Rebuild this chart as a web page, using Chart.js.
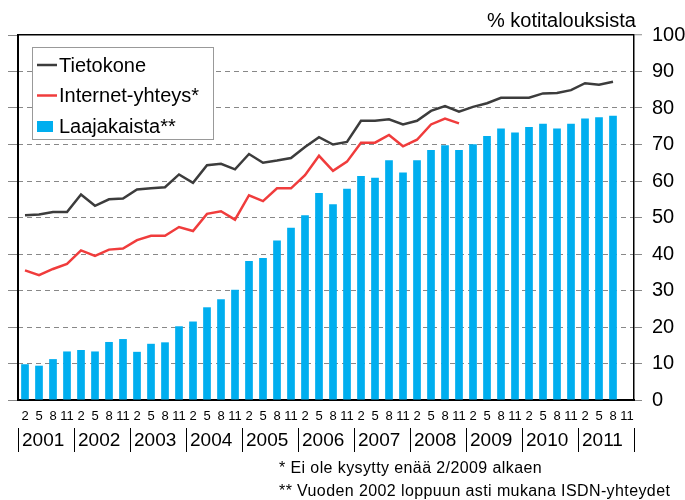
<!DOCTYPE html>
<html>
<head>
<meta charset="utf-8">
<title>Tietokone, internet ja laajakaista kotitalouksissa</title>
<script src="https://cdn.jsdelivr.net/npm/chart.js@4.4.1/dist/chart.umd.min.js"></script>
<style>
    body { margin: 0; background: #fff; }
    #wrap { position: relative; width: 685px; height: 500px; font-family: 'Liberation Sans', Arial, sans-serif; color: #000; }
    #chart { position: absolute; left: 0; top: 0; }
    #unit { position: absolute; right: 49px; top: 10px; font-size: 20px; line-height: 20px; white-space: nowrap; }
    .note { position: absolute; left: 279px; font-size: 16px; line-height: 16px; letter-spacing: 0.4px; white-space: nowrap; }
</style>
</head>
<body>
<div id="wrap">
    <canvas id="chart" width="685" height="500"></canvas>
    <div id="unit">% kotitalouksista</div>
    <div class="note" style="top:460px">* Ei ole kysytty enää 2/2009 alkaen</div>
    <div class="note" style="top:483px">** Vuoden 2002 loppuun asti mukana ISDN-yhteydet</div>
</div>
<script>
// Categories: one slot per survey month (2, 5, 8, 11) of every year
const years = ['2001', '2002', '2003', '2004', '2005', '2006', '2007', '2008', '2009', '2010', '2011'];
const months = ['2', '5', '8', '11'];

// Series values, % of households (2/2001 ... 11/2011)
const computerData = [
    50.6, 50.8, 51.5, 51.5, 56.3, 53.2, 55.0, 55.2, 57.7, 58.0, 58.3, 61.8,
    59.5, 64.3, 64.7, 63.2, 67.4, 65.0, 65.6, 66.3, 69.3, 72.0, 70.0, 70.7,
    76.5, 76.5, 76.9, 75.5, 76.5, 79.2, 80.5, 79.0, 80.3, 81.3, 82.8, 82.8,
    82.8, 84.0, 84.1, 84.9, 86.8, 86.4, 87.2, null
];
const internetData = [
    35.5, 34.2, 35.9, 37.3, 41.0, 39.5, 41.2, 41.5, 43.8, 45.0, 45.0, 47.4,
    46.3, 51.0, 51.7, 49.4, 56.1, 54.5, 58.0, 58.0, 61.6, 66.9, 62.8, 65.3,
    70.5, 70.5, 72.6, 69.5, 71.3, 75.5, 77.1, 75.8
];
const broadbandData = [
    9.8, 9.4, 11.2, 13.3, 13.7, 13.3, 15.9, 16.7, 13.2, 15.4, 15.8, 20.2,
    21.5, 25.4, 27.6, 30.2, 38.1, 38.9, 43.7, 47.2, 50.6, 56.7, 53.6, 57.9,
    61.4, 60.9, 65.7, 62.3, 65.7, 68.5, 69.8, 68.5, 70.1, 72.3, 74.4, 73.3,
    74.8, 75.7, 74.4, 75.7, 77.1, 77.5, 77.9, null
];

const quarterLabels = years.flatMap(() => months);
const FONT = "'Liberation Sans', Arial, sans-serif";

// Legend drawn as a framed box inside the plot area
const boxLegend = {
    id: 'boxLegend',
    afterDraw(chart) {
        const ctx = chart.ctx;
        const area = chart.chartArea;
        const x = area.left + 14, y = area.top + 12, w = 181, h = 92;
        ctx.save();
        ctx.fillStyle = '#fff';
        ctx.fillRect(x, y, w, h);
        ctx.strokeStyle = '#999';
        ctx.lineWidth = 1;
        ctx.strokeRect(x + 0.5, y + 0.5, w, h);
        ctx.font = '20px ' + FONT;
        ctx.textBaseline = 'middle';
        chart.data.datasets.forEach((ds, i) => {
            const cy = y + 18 + i * 30.5;
            if (ds.type === 'bar') {
                ctx.fillStyle = ds.backgroundColor;
                ctx.fillRect(x + 5, cy - 5, 16, 11);
            } else {
                ctx.strokeStyle = ds.borderColor;
                ctx.lineWidth = 2.5;
                ctx.beginPath();
                ctx.moveTo(x + 5, cy);
                ctx.lineTo(x + 25, cy);
                ctx.stroke();
            }
            ctx.fillStyle = '#000';
            ctx.fillText(ds.label, x + 27, cy + 1);
        });
        ctx.restore();
    }
};

const isTop = (c) => c.tick && c.tick.value === 100;

new Chart(document.getElementById('chart'), {
    type: 'bar',
    data: {
        labels: quarterLabels,
        datasets: [{
            type: 'line',
            label: 'Tietokone',
            data: computerData,
            borderColor: '#3c3c3c',
            backgroundColor: '#3c3c3c',
            borderWidth: 2.5,
            pointRadius: 0,
            tension: 0,
            order: 1
        }, {
            type: 'line',
            label: 'Internet-yhteys*',
            data: internetData,
            borderColor: '#f03c3c',
            backgroundColor: '#f03c3c',
            borderWidth: 2.5,
            pointRadius: 0,
            tension: 0,
            order: 0
        }, {
            type: 'bar',
            label: 'Laajakaista**',
            data: broadbandData,
            backgroundColor: '#00aeef',
            categoryPercentage: 0.55,
            barPercentage: 1,
            order: 2
        }]
    },
    options: {
        responsive: false,
        animation: false,
        layout: { padding: { left: 8, right: 0, top: 35, bottom: 42 } },
        font: { family: FONT },
        plugins: {
            legend: { display: false },
            tooltip: { enabled: false }
        },
        scales: {
            x: {
                type: 'category',
                position: 'bottom',
                offset: true,
                grid: { display: false, drawTicks: false },
                border: { display: true, color: '#000', width: 2 },
                ticks: { autoSkip: false, maxRotation: 0, padding: 9, color: '#000', font: { family: FONT, size: 13 } },
                afterFit: (s) => { s.height = 28; }
            },
            x2: {
                type: 'category',
                position: 'bottom',
                weight: 1,
                offset: false,
                labels: [...years, ''],
                grid: { display: true, offset: false, drawOnChartArea: false, drawTicks: true, tickLength: 24, tickColor: '#000', tickWidth: 1, color: '#000' },
                border: { display: false },
                ticks: { autoSkip: false, maxRotation: 0, align: 'start', labelOffset: 4, padding: -23, color: '#000', font: { family: FONT, size: 19 } },
                afterFit: (s) => { s.height = 30; }
            },
            yL: {
                position: 'left',
                min: 0,
                max: 100,
                ticks: { display: false, stepSize: 10 },
                grid: { drawOnChartArea: false, tickColor: '#888', tickLength: 10, tickWidth: 1, tickBorderDash: [] },
                border: { color: '#000', width: 2 },
                afterFit: (s) => { s.width = 10; }
            },
            y: {
                position: 'right',
                min: 0,
                max: 100,
                ticks: { stepSize: 10, padding: 10, color: '#000', font: { family: FONT, size: 20 } },
                grid: {
                    color: (c) => isTop(c) ? '#000' : '#888',
                    lineWidth: (c) => isTop(c) ? 1.5 : 1,
                    tickColor: '#888',
                    tickLength: 8,
                    tickWidth: 1,
                    tickBorderDash: []
                },
                border: { color: '#000', width: 1.5, dash: (c) => isTop(c) ? [] : [5, 4] },
                afterFit: (s) => { s.width = 51; }
            }
        }
    },
    plugins: [boxLegend]
});
</script>
</body>
</html>
